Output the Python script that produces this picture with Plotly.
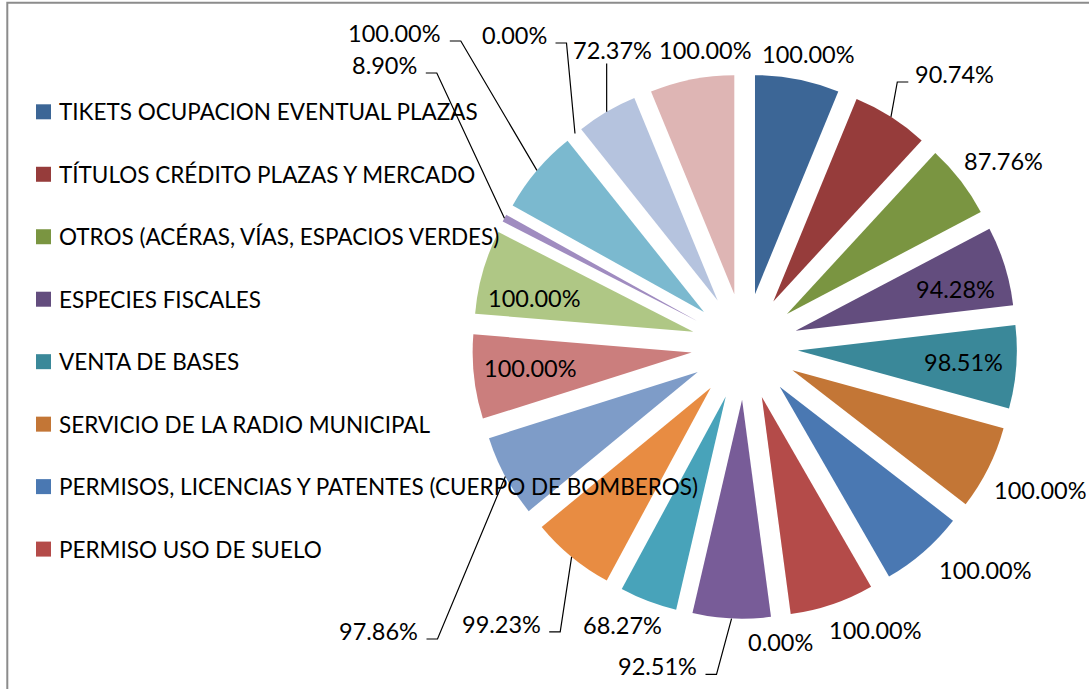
import math
import plotly.graph_objects as go

# ---------------- data ----------------
categories = [
    "TIKETS OCUPACION EVENTUAL PLAZAS",
    "TÍTULOS CRÉDITO PLAZAS Y MERCADO",
    "OTROS (ACÉRAS, VÍAS, ESPACIOS VERDES)",
    "ESPECIES FISCALES",
    "VENTA DE BASES",
    "SERVICIO DE LA RADIO MUNICIPAL",
    "PERMISOS, LICENCIAS Y PATENTES (CUERPO DE BOMBEROS)",
    "PERMISO USO DE SUELO",
    "RUBRO 9", "RUBRO 10", "RUBRO 11", "RUBRO 12", "RUBRO 13", "RUBRO 14",
    "RUBRO 15", "RUBRO 16", "RUBRO 17", "RUBRO 18", "RUBRO 19", "RUBRO 20",
]
values = [100.00, 90.74, 87.76, 94.28, 98.51, 100.00, 100.00, 100.00, 0.00, 92.51,
          68.27, 99.23, 97.86, 100.00, 100.00, 8.90, 100.00, 0.00, 72.37, 100.00]
legend_shown = 8  # entries visible in the (clipped) legend

# ---------------- style ----------------
colors = ["#3C6696", "#963C3B", "#7A9541", "#634D7E", "#3A8899", "#C37636",
          "#4A78B2", "#B44B49", "#92B050", "#785C98", "#48A3BA", "#E88C42",
          "#7E9CC8", "#CB7E7D", "#AFC785", "#A08CC0", "#7BB9CF", "#F5B27F",
          "#B5C3DE", "#DEB5B4"]

W, H = 1089, 689
CX, CY = 744.65, 346.5        # pie centre (px)
R = 219.0                     # pie radius (px)
PULL = 0.2436                 # explode fraction
FONT = "Lato"
LBL_SIZE = 23.5
LEG_SIZE = 22.5

# label placement per slice: (x_px, y_px, xanchor, leader)
# leader: None, 'L' (line leaves from left edge), 'R' (from right edge), 'B' (from bottom)
label_place = [
    (808.3, 54, "center", None),
    (913.3, 74, "left", "L"),
    (1003.7, 161.3, "center", None),
    (955.7, 289.3, "center", None),
    (963.5, 362.3, "center", None),
    (1040.7, 489.7, "center", None),
    (985.0, 570.3, "center", None),
    (875.0, 630.3, "center", None),
    (780.2, 641.7, "center", None),
    (699.0, 666.3, "right", "R"),
    (622.0, 625.0, "center", None),
    (542.7, 623.8, "right", "R"),
    (420.0, 631.0, "right", "R"),
    (530.5, 367.5, "center", None),
    (534.0, 297.5, "center", None),
    (419.3, 65.0, "right", "R"),
    (443.3, 33.0, "right", "R"),
    (549.0, 35.0, "right", "R"),
    (612.0, 50.0, "center", "B"),
    (705.0, 50.0, "center", None),
]


def px(x):
    return x / W


def py(y):
    return 1 - y / H


box = R * (1 + PULL)
fig = go.Figure(go.Pie(
    labels=categories,
    values=values,
    sort=False,
    direction="clockwise",
    rotation=0,
    pull=[PULL] * len(values),
    marker=dict(colors=colors, line=dict(width=0)),
    textinfo="none",
    hoverinfo="label+value",
    showlegend=False,
    domain=dict(x=[px(CX - box), px(CX + box)], y=[py(CY + box), py(CY - box)]),
))

shapes = []
annotations = []

# data labels + leader lines
total = sum(values)
cum = 0.0
for i, v in enumerate(values):
    mid = (cum + v / 2) / total * 2 * math.pi
    cum += v
    lx, ly, anc, leader = label_place[i]
    annotations.append(dict(
        x=px(lx), y=py(ly), xref="paper", yref="paper",
        text=f"{v:.2f}%", showarrow=False, xanchor=anc, yanchor="middle",
        font=dict(family=FONT, size=LBL_SIZE, color="#000000"),
    ))
    if leader:
        ax = CX + box * math.sin(mid)
        ay = CY - box * math.cos(mid)
        base = ly + 8
        if leader == "R":
            pts = [(ax, ay), (lx + 17.5, base), (lx + 6.5, base)]
        elif leader == "L":
            pts = [(ax, ay), (lx - 16, base), (lx - 5, base)]
        else:
            pts = [(ax, ay), (ax, ly + 13.5)]
        path = "M " + " L ".join(f"{px(a):.5f},{py(b):.5f}" for a, b in pts)
        shapes.append(dict(type="path", xref="paper", yref="paper", path=path,
                           line=dict(color="#000000", width=1.2)))

# custom (clipped) legend
for i in range(legend_shown):
    yc = 111.8 + 62.47 * i
    shapes.append(dict(type="rect", xref="paper", yref="paper",
                       x0=px(36), x1=px(51), y0=py(yc + 7.5), y1=py(yc - 7.5),
                       fillcolor=colors[i], line=dict(width=0)))
    annotations.append(dict(
        x=px(57), y=py(yc), xref="paper", yref="paper", text=categories[i],
        showarrow=False, xanchor="left", yanchor="middle",
        font=dict(family=FONT, size=LEG_SIZE, color="#000000"),
    ))

# chart border
shapes.append(dict(type="rect", xref="paper", yref="paper",
                   x0=px(7.3), x1=px(W + 20), y0=py(H + 20), y1=py(2.7),
                   line=dict(color="#8C8C8C", width=2), fillcolor="rgba(0,0,0,0)"))

fig.update_layout(
    width=W, height=H,
    margin=dict(l=0, r=0, t=0, b=0),
    paper_bgcolor="#FFFFFF",
    plot_bgcolor="#FFFFFF",
    shapes=shapes,
    annotations=annotations,
)

fig.write_html("out.html", config={"displayModeBar": False},
               post_script="document.body.style.margin='0px';")
